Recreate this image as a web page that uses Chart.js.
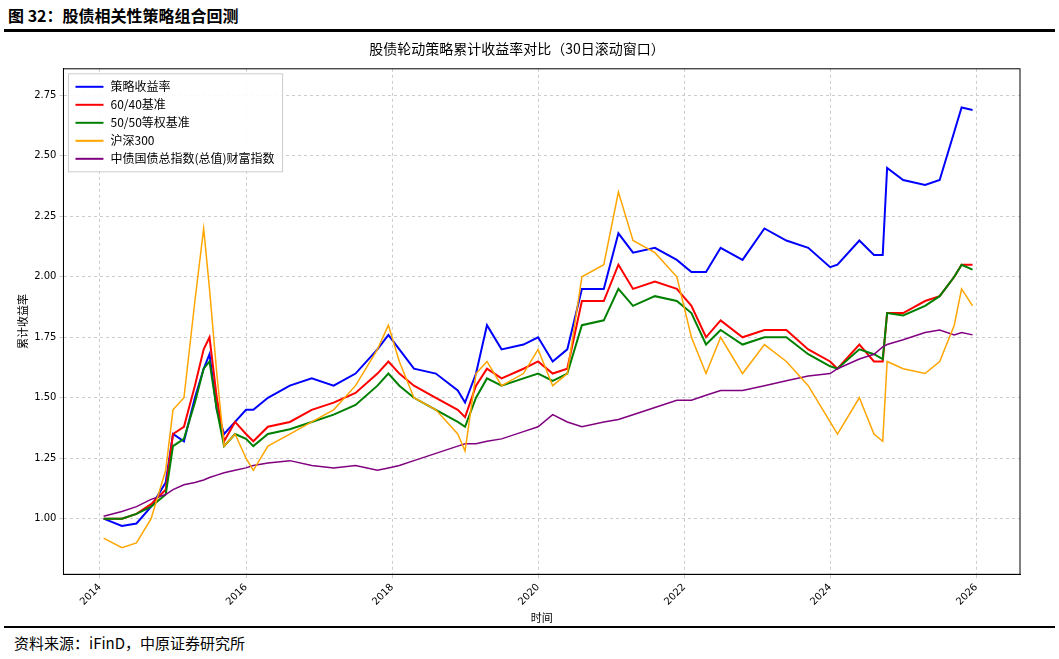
<!DOCTYPE html>
<html><head><meta charset="utf-8">
<script src="https://cdn.jsdelivr.net/npm/chart.js@4"></script>
<style>
body{margin:0;width:1059px;height:659px;background:#fff;font-family:"Noto Sans CJK SC",sans-serif;overflow:hidden;position:relative}
#head{position:absolute;left:8px;top:3px;font-size:16px;font-weight:bold;color:#000}
#line1{position:absolute;left:4px;right:4px;top:29px;border-top:3px solid #000}
#line2{position:absolute;left:4px;right:4px;top:626px;border-top:2px solid #000}
#src{position:absolute;left:14px;top:632px;font-size:15px}
#box{position:absolute;left:14px;top:38px;width:1026px;height:586px}
</style></head><body>
<div id="head">图 32：股债相关性策略组合回测</div>
<div id="line1"></div>
<div id="box"><canvas id="c"></canvas></div>
<div id="line2"></div>
<div id="src">资料来源：iFinD，中原证券研究所</div>
<script>
// decimal years
const times = [2014.05,2014.3,2014.5,2014.7,2014.9,2015.0,2015.15,2015.3,2015.42,2015.5,2015.6,2015.7,2015.85,2016.0,2016.1,2016.3,2016.6,2016.9,2017.2,2017.5,2017.8,2017.95,2018.1,2018.3,2018.6,2018.9,2019.0,2019.15,2019.3,2019.5,2019.8,2020.0,2020.2,2020.4,2020.6,2020.9,2021.1,2021.3,2021.6,2021.9,2022.1,2022.3,2022.5,2022.8,2023.1,2023.4,2023.7,2024.0,2024.1,2024.4,2024.6,2024.72,2024.78,2025.0,2025.3,2025.5,2025.7,2025.8,2025.95];
const strategy = [1.0,0.97,0.98,1.05,1.15,1.35,1.32,1.5,1.62,1.68,1.45,1.35,1.4,1.45,1.45,1.5,1.55,1.58,1.55,1.6,1.7,1.76,1.7,1.62,1.6,1.53,1.48,1.6,1.8,1.7,1.72,1.75,1.65,1.7,1.95,1.95,2.18,2.1,2.12,2.07,2.02,2.02,2.12,2.07,2.2,2.15,2.12,2.04,2.05,2.15,2.09,2.09,2.45,2.4,2.38,2.4,2.6,2.7,2.69];
const bench6040 = [1.0,1.0,1.02,1.06,1.12,1.35,1.38,1.55,1.7,1.75,1.5,1.32,1.4,1.35,1.32,1.38,1.4,1.45,1.48,1.52,1.6,1.65,1.6,1.55,1.5,1.45,1.42,1.55,1.62,1.58,1.62,1.65,1.6,1.62,1.9,1.9,2.05,1.95,1.98,1.95,1.88,1.75,1.82,1.75,1.78,1.78,1.7,1.65,1.62,1.72,1.65,1.65,1.85,1.85,1.9,1.92,2.0,2.05,2.05];
const bench5050 = [1.0,1.0,1.02,1.05,1.1,1.3,1.33,1.48,1.62,1.65,1.45,1.3,1.35,1.33,1.3,1.35,1.37,1.4,1.43,1.47,1.55,1.6,1.55,1.5,1.45,1.4,1.38,1.5,1.58,1.55,1.58,1.6,1.57,1.6,1.8,1.82,1.95,1.88,1.92,1.9,1.85,1.72,1.78,1.72,1.75,1.75,1.68,1.63,1.62,1.7,1.68,1.66,1.85,1.84,1.88,1.92,2.0,2.05,2.03];
const hs300 = [0.92,0.88,0.9,1.0,1.2,1.45,1.5,1.9,2.2,1.95,1.6,1.3,1.35,1.25,1.2,1.3,1.35,1.4,1.45,1.55,1.7,1.8,1.65,1.5,1.45,1.35,1.28,1.6,1.65,1.55,1.6,1.7,1.55,1.6,2.0,2.05,2.35,2.15,2.1,2.0,1.75,1.6,1.75,1.6,1.72,1.65,1.55,1.4,1.35,1.5,1.35,1.32,1.65,1.62,1.6,1.65,1.8,1.95,1.88];
const bond = [1.01,1.03,1.05,1.08,1.1,1.12,1.14,1.15,1.16,1.17,1.18,1.19,1.2,1.21,1.22,1.23,1.24,1.22,1.21,1.22,1.2,1.21,1.22,1.24,1.27,1.3,1.31,1.31,1.32,1.33,1.36,1.38,1.43,1.4,1.38,1.4,1.41,1.43,1.46,1.49,1.49,1.51,1.53,1.53,1.55,1.57,1.59,1.6,1.62,1.66,1.68,1.71,1.72,1.74,1.77,1.78,1.76,1.77,1.76];
const yTicks = [1.00,1.25,1.50,1.75,2.00,2.25,2.50,2.75];
const xTicks = [2014,2016,2018,2020,2022,2024,2026];
const legendOrder = ['策略收益率', '60/40基准', '50/50等权基准', '沪深300', '中债国债总指数(总值)财富指数'];

const pts = arr => arr.map((v, i) => ({x: times[i], y: v}));
const ds = (label, arr, color, w) => ({label, data: pts(arr), borderColor: color, backgroundColor: color, borderWidth: w, pointRadius: 0, tension: 0});
const font = {family: '"DejaVu Sans","Noto Sans CJK SC",sans-serif', size: 10};

new Chart(document.getElementById('c'), {
  type: 'line',
  data: {datasets: [
    ds('沪深300', hs300, '#ffa500', 1.5),
    ds('中债国债总指数(总值)财富指数', bond, '#800080', 1.5),
    ds('50/50等权基准', bench5050, '#008000', 2),
    ds('60/40基准', bench6040, '#ff0000', 2),
    ds('策略收益率', strategy, '#0000ff', 2)
  ]},
  options: {
    animation: false, responsive: true, maintainAspectRatio: false,
    layout: {padding: {right: 20, top: 0}},
    plugins: {
      title: {display: true, text: '股债轮动策略累计收益率对比（30日滚动窗口）', font: {family: '"Noto Sans CJK SC"', size: 14, weight: 'normal'}, color: '#000', padding: {top: 2, bottom: 12}},
      legend: {display: false}
    },
    scales: {
      x: {type: 'linear', min: 2013.5, max: 2026.6,
        afterBuildTicks: s => { s.ticks = xTicks.map(v => ({value: v})); },
        ticks: {maxRotation: 45, minRotation: 45, font, color: '#000', callback: v => String(v)},
        grid: {color: '#cccccc', tickLength: 4},
        border: {color: '#000', dash: [3, 3]},
        title: {display: true, text: '时间', font: {family: '"Noto Sans CJK SC"', size: 11}, color: '#000', padding: 0}},
      y: {min: 0.77, max: 2.86,
        afterBuildTicks: s => { s.ticks = yTicks.map(v => ({value: v})); },
        ticks: {font, color: '#000', callback: v => v.toFixed(2)},
        grid: {color: '#cccccc', tickLength: 4},
        border: {color: '#000', dash: [3, 3]},
        title: {display: true, text: '累计收益率', font: {family: '"Noto Sans CJK SC"', size: 11}, color: '#000', padding: 2}}
    }
  },
  plugins: [{id: 'frame', afterDraw(c) {
    const a = c.chartArea, g = c.ctx;
    g.save(); g.strokeStyle = '#000'; g.lineWidth = 1; g.setLineDash([]);
    g.strokeRect(a.left, a.top, a.right - a.left, a.bottom - a.top);
    // legend box in upper-left of plot
    const x0 = a.left + 5, y0 = a.top + 5, rowH = 18;
    g.font = '12px "Noto Sans CJK SC"';
    let w = 0;
    legendOrder.forEach(t => { w = Math.max(w, g.measureText(t).width); });
    g.fillStyle = 'rgba(255,255,255,0.9)'; g.strokeStyle = '#cccccc';
    g.fillRect(x0, y0, w + 50, rowH * legendOrder.length + 8);
    g.strokeRect(x0, y0, w + 50, rowH * legendOrder.length + 8);
    legendOrder.forEach((t, i) => {
      const d = c.data.datasets.find(s => s.label === t);
      const y = y0 + 13 + i * rowH;
      g.strokeStyle = d.borderColor; g.lineWidth = 2;
      g.beginPath(); g.moveTo(x0 + 7, y); g.lineTo(x0 + 35, y); g.stroke();
      g.fillStyle = '#000'; g.textBaseline = 'middle';
      g.fillText(t, x0 + 42, y);
    });
    g.restore();
  }}]
});
</script>
</body></html>
